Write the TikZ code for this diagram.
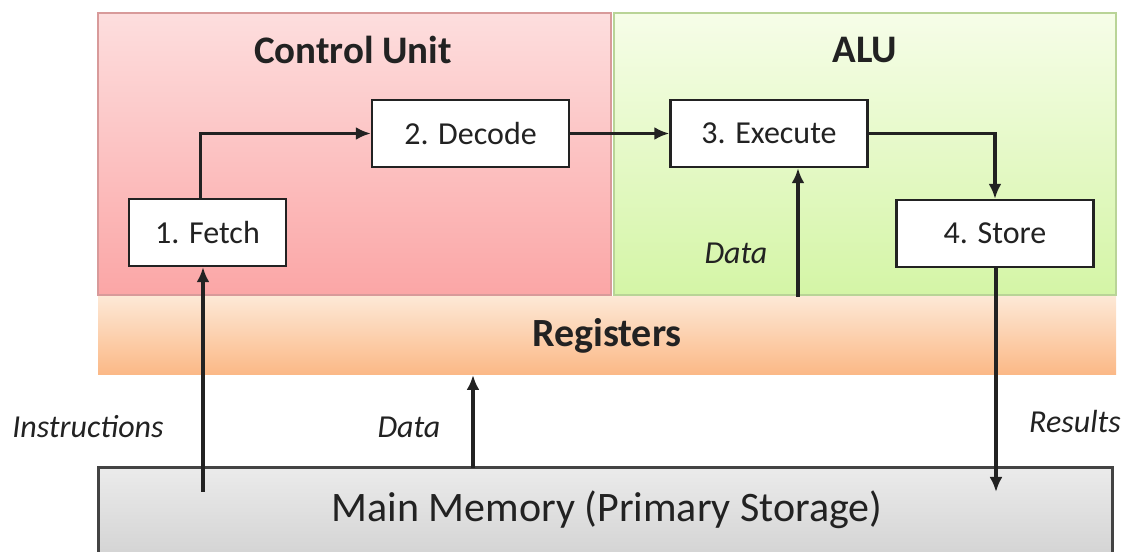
\documentclass[tikz,border=0pt]{standalone}
\usepackage{fontspec}
\setmainfont{Carlito}
\usepackage{tikz}
\usetikzlibrary{arrows.meta,positioning,calc}
\usepackage{xcolor}
\definecolor{cuTop}{HTML}{FDDEDE}
\definecolor{cuBot}{HTML}{FBA6A6}
\definecolor{cuLine}{HTML}{D89A9A}
\definecolor{aluTop}{HTML}{F6FDE8}
\definecolor{aluBot}{HTML}{D4F5A6}
\definecolor{aluLine}{HTML}{B9D497}
\definecolor{regTop}{HTML}{FDE8D5}
\definecolor{regBot}{HTML}{FBB886}
\definecolor{memTop}{HTML}{EBEBEB}
\definecolor{memBot}{HTML}{D2D2D2}
\definecolor{ink}{HTML}{222222}
\newcommand{\fs}[1]{\fontsize{#1}{#1}\selectfont}

\begin{document}
\begin{tikzpicture}[x=0.5pt,y=0.5pt,>={Latex[length=7.5pt,width=6.5pt]},
  stagebox/.style={draw=ink,line width=1.2pt,fill=white,minimum width=98.5pt,minimum height=33.5pt,inner sep=0pt,font=\fs{16},text=ink},
  unit/.style={font=\bfseries\fs{19.5},text=ink},
  flow/.style={->,line width=1.6pt,ink},
  tag/.style={font=\itshape\fs{16},text=ink}]
\useasboundingbox (0,0) rectangle (1132,552);
\clip (0,0) rectangle (1132,552);

% unit backgrounds
\shade[top color=cuTop,bottom color=cuBot,draw=cuLine,line width=0.6pt] (98,257) rectangle (611,539);
\shade[top color=aluTop,bottom color=aluBot,draw=aluLine,line width=0.6pt] (614,257) rectangle (1116,539);
\shade[top color=regTop,bottom color=regBot] (98,177) rectangle (1116,255);
\shade[top color=memTop,bottom color=memBot,draw=ink!85,line width=1.5pt] (98,-10) rectangle (1112,84);

\node[unit] (cu) at (353,502) {Control Unit};
\node[unit] (alu) at (865,502) {ALU};
\node[font=\bfseries\fs{20},text=ink] (regs) at (607,216) {Registers};
\coordinate (regsN) at (607,255);
\coordinate (regsS) at (607,177);
\node[font=\fs{21},text=ink] (mem) at (607,42) {Main Memory (Primary Storage)};
\coordinate (memN) at (605,84);

% the four stages
\node[stagebox,minimum width=78.5pt] (fetch) at (207.5,319.5) {1. Fetch};
\node[stagebox] (decode) at (470.5,418.5) {2. Decode};
\node[stagebox] (execute) at (769,418.5) {3. Execute};
\node[stagebox] (store) at (995,318.5) {4. Store};

\draw[flow] ([xshift=-3.5pt]fetch.north) |- (decode.west);
\draw[flow] (decode.east) -- (execute.west);
\draw[flow] (execute.east) -| (store.north);
\draw[flow] (regsN -| 798,0) -- (execute.south -| 798,0);
\node[tag] (dataalu) at (736,299) {Data};

% memory traffic
\coordinate (instart) at (203,60);
\coordinate (resend) at (996,60);
\draw[flow] (instart) -- (instart |- fetch.south);
\draw[flow] (memN -| 473,0) -- (regsS -| 473,0);
\draw[flow] (store.south -| resend) -- (resend);
\node[tag] (instr) at (88,125) {Instructions};
\node[tag] (datamem) at (409,125) {Data};
\node[tag] (res) at (1075,130) {Results};
\end{tikzpicture}
\end{document}
